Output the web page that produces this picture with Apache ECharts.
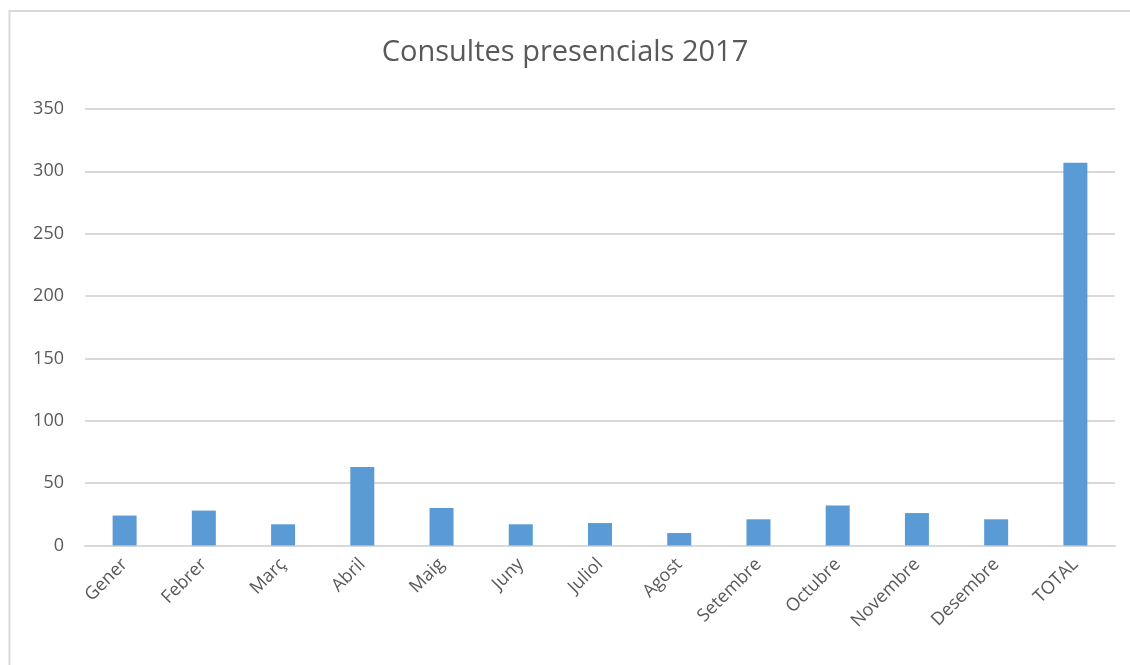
<!DOCTYPE html>
<html>
<head>
<meta charset="utf-8">
<script src="https://cdn.jsdelivr.net/npm/echarts@6/dist/echarts.min.js"></script>
<style>
html,body{margin:0;padding:0;background:#fff;}
#chart{width:1130px;height:665px;}
</style>
</head>
<body>
<div id="chart"></div>
<script>
var categories = ['Gener','Febrer','Març','Abril','Maig','Juny','Juliol','Agost','Setembre','Octubre','Novembre','Desembre','TOTAL'];
var values = [24, 28, 17, 63, 30, 17, 18, 10, 21, 32, 26, 21, 307];
var yTicks = [0, 350, 50];
var titleText = 'Consultes presencials 2017';

var chart = echarts.init(document.getElementById('chart'));
chart.setOption({
  backgroundColor: '#ffffff',
  animation: false,
  title: {
    text: titleText,
    left: 'center',
    top: 33,
    textStyle: { fontFamily: 'Open Sans', fontSize: 29, fontWeight: 'normal', color: '#595959' }
  },
  graphic: [{
    type: 'rect',
    shape: { x: 9.5, y: 11, width: 1200, height: 700 },
    style: { fill: 'none', stroke: '#d9d9d9', lineWidth: 2 },
    silent: true
  }],
  grid: { left: 85, right: 15, top: 109, bottom: 119.5, containLabel: false },
  xAxis: {
    type: 'category',
    data: categories,
    axisLine: { show: true, lineStyle: { color: '#d9d9d9', width: 2 } },
    axisTick: { show: false },
    axisLabel: {
      rotate: 45, interval: 0, margin: 16,
      fontFamily: 'Open Sans', fontSize: 18, color: '#595959'
    }
  },
  yAxis: {
    type: 'value',
    min: yTicks[0], max: yTicks[1], interval: yTicks[2],
    axisLine: { show: false },
    axisTick: { show: false },
    splitLine: { lineStyle: { color: '#d9d9d9', width: 2 } },
    axisLabel: { margin: 21, fontFamily: 'Open Sans', fontSize: 18, color: '#595959' }
  },
  series: [{
    type: 'bar',
    data: values,
    barWidth: 24,
    itemStyle: { color: '#5B9BD5' }
  }]
});
</script>
</body>
</html>
